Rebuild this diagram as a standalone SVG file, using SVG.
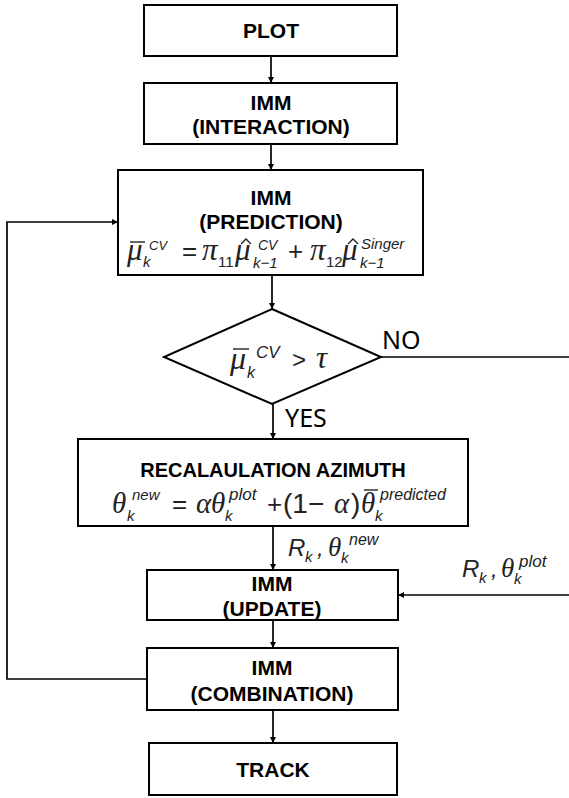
<svg xmlns="http://www.w3.org/2000/svg" width="569" height="798" viewBox="0 0 569 798">
<style>
.box{fill:#fff;stroke:#000;stroke-width:2}
.t{font-family:"Liberation Sans",Arial,sans-serif;font-weight:bold;font-size:21px;text-anchor:middle;fill:#000}
.edge{stroke:#000;stroke-width:1.7;fill:none}
.f{font-family:"Liberation Sans",sans-serif;font-style:italic;font-size:15px;fill:#222}
.g{font-family:"Liberation Serif",serif;font-style:italic;font-size:31px}
.n{font-style:normal}
.u{font-style:normal;font-size:26px}
.lbl{font-family:"Noto Sans","Liberation Sans",sans-serif;font-size:25px;fill:#000}
.bar{stroke:#222;stroke-width:1.4;fill:none}
</style>
<defs>
<marker id="ah" viewBox="0 0 10 10" refX="10" refY="5" markerWidth="6" markerHeight="6" markerUnits="userSpaceOnUse" orient="auto">
<path d="M0,0 L10,5 L0,10 z" fill="#000"/>
</marker>
</defs>

<g id="edges">
<line class="edge" x1="271" y1="56" x2="271" y2="83" marker-end="url(#ah)"/>
<line class="edge" x1="271" y1="144" x2="271" y2="170" marker-end="url(#ah)"/>
<line class="edge" x1="272" y1="275" x2="272" y2="309" marker-end="url(#ah)"/>
<line class="edge" x1="273" y1="404" x2="273" y2="439" marker-end="url(#ah)"/>
<polyline class="edge" points="381,357 569,357"/>
<line class="edge" x1="273" y1="526" x2="273" y2="570" marker-end="url(#ah)"/>
<line class="edge" x1="569" y1="595" x2="398" y2="595" marker-end="url(#ah)"/>
<line class="edge" x1="273" y1="620" x2="273" y2="648" marker-end="url(#ah)"/>
<polyline class="edge" points="147,679 7,679 7,222 118,222" marker-end="url(#ah)"/>
<line class="edge" x1="273" y1="710" x2="273" y2="743" marker-end="url(#ah)"/>
<text class="lbl" x="382" y="349">NO</text>
<text class="lbl" x="285" y="427">YES</text>
<text class="f" id="lbl-new"><tspan x="288" y="556" style="font-size:24px">R</tspan><tspan x="305" y="562">k</tspan><tspan x="317" y="556" style="font-size:24px">,</tspan><tspan class="g" x="328" y="556" style="font-size:27px">θ</tspan><tspan x="341" y="563">k</tspan><tspan x="349" y="545" style="font-size:16px">new</tspan></text>
<text class="f" id="lbl-plot"><tspan x="462" y="577" style="font-size:24px">R</tspan><tspan x="479" y="583">k</tspan><tspan x="491" y="577" style="font-size:24px">,</tspan><tspan class="g" x="501" y="577" style="font-size:27px">θ</tspan><tspan x="514" y="584">k</tspan><tspan x="519" y="567" style="font-size:17px">plot</tspan></text>
</g>

<g id="plot">
<rect class="box" x="144" y="5" width="253" height="51"/>
<text class="t" x="271" y="38">PLOT</text>
</g>

<g id="interaction">
<rect class="box" x="144" y="83" width="253" height="61"/>
<text class="t"><tspan x="271" y="110">IMM</tspan><tspan x="271" y="134">(INTERACTION)</tspan></text>
</g>

<g id="prediction">
<rect class="box" x="118" y="170" width="305" height="105"/>
<text class="t"><tspan x="271" y="205">IMM</tspan><tspan x="271" y="229">(PREDICTION)</tspan></text>
<text class="f"><tspan class="g" x="127" y="260">μ</tspan><tspan x="143" y="267">k</tspan><tspan x="149" y="250" style="font-size:13px">CV</tspan><tspan class="u" x="182" y="260">=</tspan><tspan class="g" x="202" y="260">π</tspan><tspan class="n" x="218" y="267">11</tspan><tspan class="g" x="235" y="260">μ</tspan><tspan x="253" y="268">k−1</tspan><tspan x="258" y="250" style="font-size:14px">CV</tspan><tspan class="u" x="288" y="260">+</tspan><tspan class="g" x="310" y="260">π</tspan><tspan class="n" x="326" y="267">12</tspan><tspan class="g" x="342" y="260">μ</tspan><tspan x="360" y="268">k−1</tspan><tspan x="361" y="249">Singer</tspan></text>
<line class="bar" x1="130" y1="242" x2="145" y2="242"/>
<polyline class="bar" points="241,244 246,239 251,244"/>
<polyline class="bar" points="348,244 353,239 358,244"/>
</g>

<g id="decision">
<polygon class="box" points="272,309 381,357 272,404 164,357"/>
<text class="f"><tspan class="g" x="230" y="369" style="font-size:32px">μ</tspan><tspan x="247" y="378" style="font-size:16px">k</tspan><tspan x="256" y="358" style="font-size:17px">CV</tspan><tspan class="u" x="292" y="368" style="font-size:24px">&gt;</tspan><tspan class="g" x="316" y="368" style="font-size:31px">τ</tspan></text>
<line class="bar" x1="233" y1="349" x2="249" y2="349"/>
</g>

<g id="recalc">
<rect class="box" x="78" y="439" width="390" height="87"/>
<text class="t" x="273" y="477" style="font-size:20px">RECALAULATION AZIMUTH</text>
<text class="f"><tspan class="g" x="112" y="513" style="font-size:29px">θ</tspan><tspan x="127" y="521">k</tspan><tspan x="132" y="500">new</tspan><tspan class="u" x="172" y="513">=</tspan><tspan class="g" x="196" y="513" style="font-size:29px">α</tspan><tspan class="g" x="211" y="513" style="font-size:29px">θ</tspan><tspan x="225" y="521">k</tspan><tspan x="229" y="500" style="font-size:17px">plot</tspan><tspan class="u" x="267" y="513">+</tspan><tspan class="u" x="283" y="513" style="font-size:28px">(1−</tspan><tspan class="g" x="334" y="513" style="font-size:29px">α</tspan><tspan class="u" x="351" y="513" style="font-size:28px">)</tspan><tspan class="g" x="361" y="513" style="font-size:29px">θ</tspan><tspan x="375" y="521">k</tspan><tspan x="380" y="500" style="font-size:16px">predicted</tspan></text>
<line class="bar" x1="364" y1="490" x2="378" y2="490"/>
</g>

<g id="update">
<rect class="box" x="147" y="570" width="251" height="50"/>
<text class="t"><tspan x="272" y="591">IMM</tspan><tspan x="272" y="616">(UPDATE)</tspan></text>
</g>

<g id="combination">
<rect class="box" x="147" y="648" width="251" height="62"/>
<text class="t"><tspan x="272" y="675">IMM</tspan><tspan x="272" y="701">(COMBINATION)</tspan></text>
</g>

<g id="track">
<rect class="box" x="149" y="743" width="248" height="52"/>
<text class="t" x="273" y="777">TRACK</text>
</g>
</svg>
